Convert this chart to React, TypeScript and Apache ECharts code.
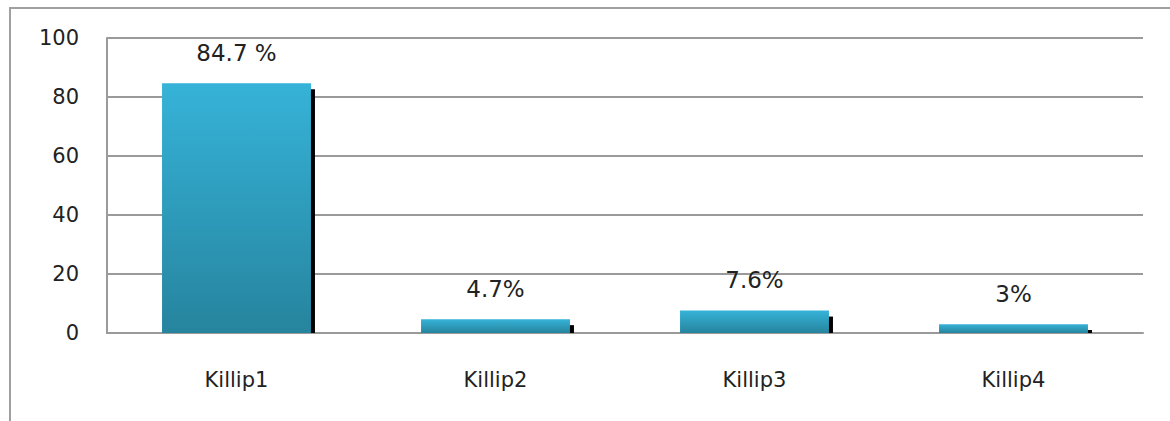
import React, { useEffect, useRef } from "react";
import * as echarts from "echarts";

const categories = ["Killip1", "Killip2", "Killip3", "Killip4"];
const values = [84.7, 4.7, 7.6, 3];
const valueLabels = ["84.7 %", "4.7%", "7.6%", "3%"];
const yTicks = [0, 20, 40, 60, 80, 100];

export default function App() {
  const ref = useRef<HTMLDivElement>(null);
  useEffect(() => {
    if (!ref.current) return;
    const chart = echarts.init(ref.current, undefined, { renderer: "svg" });
    const barFrac = 0.575;
    chart.setOption({
      animation: false,
      backgroundColor: "#ffffff",
      textStyle: { fontFamily: "DejaVu Sans" },
      graphic: [
        {
          type: "rect",
          shape: { x: 10, y: 8, width: 1300, height: 600 },
          style: { fill: "none", stroke: "#a0a0a0", lineWidth: 2 },
          z: 0,
        },
      ],
      grid: { left: 107, right: 27, top: 38, bottom: 88, containLabel: false },
      xAxis: {
        type: "category",
        data: categories,
        axisLine: { show: true, lineStyle: { color: "#9a9a9a", width: 2 } },
        axisTick: { show: false },
        axisLabel: { color: "#222", fontSize: 21, margin: 36 },
      },
      yAxis: {
        type: "value",
        min: yTicks[0],
        max: yTicks[yTicks.length - 1],
        interval: 20,
        axisLine: { show: true, lineStyle: { color: "#9a9a9a", width: 2 } },
        axisTick: { show: false },
        axisLabel: { color: "#222", fontSize: 21, margin: 28 },
        splitLine: { show: true, lineStyle: { color: "#9a9a9a", width: 2 } },
      },
      series: [
        {
          type: "custom",
          data: values.map((v, i) => [i, v]),
          z: 1,
          renderItem: (params: any, api: any) => {
            const i = api.value(0);
            const v = api.value(1);
            const top = api.coord([i, v]);
            const base = api.coord([i, 0]);
            const band = api.size([1, 0])[0];
            const bw = band * barFrac;
            const x = top[0] + bw / 2 - 2;
            const y = Math.min(top[1] + 6, base[1] - 3);
            return {
              type: "rect",
              shape: { x, y, width: 6, height: base[1] - y },
              style: { fill: "#000000" },
            };
          },
        },
        {
          type: "bar",
          data: values,
          barWidth: "57.5%",
          z: 2,
          itemStyle: {
            color: new echarts.graphic.LinearGradient(0, 0, 0, 1, [
              { offset: 0, color: "#36b3d8" },
              { offset: 1, color: "#26849e" },
            ]),
          },
          label: {
            show: true,
            position: "top",
            distance: 19,
            color: "#222",
            fontSize: 23,
            formatter: (p: any) => valueLabels[p.dataIndex],
          },
        },
      ],
    });
    return () => chart.dispose();
  }, []);
  return (
    <div
      ref={ref}
      style={{ position: "absolute", left: 0, top: 0, width: 1170, height: 421 }}
    />
  );
}
